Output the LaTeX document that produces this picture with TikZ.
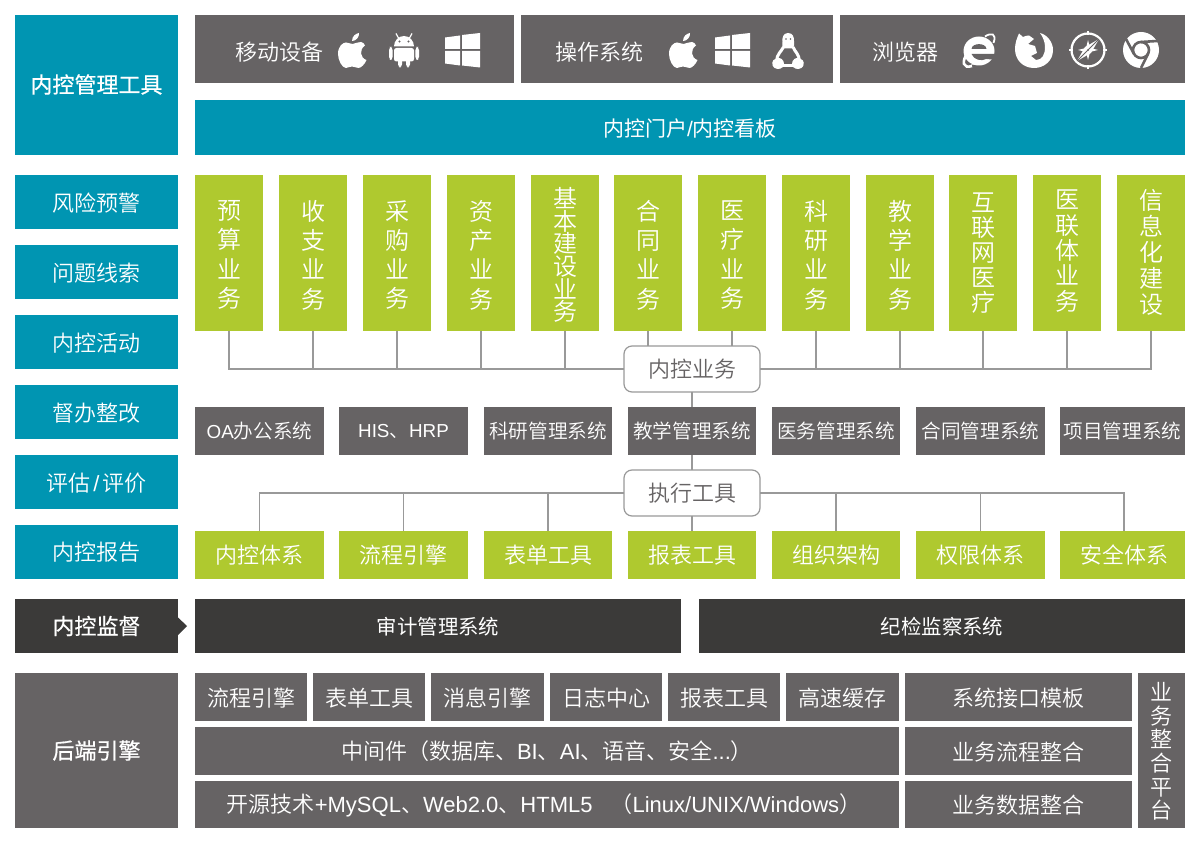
\documentclass[tikz,border=0pt]{standalone}
\usepackage{fontspec}
\setmainfont{Noto Sans CJK SC DemiLight}
\newfontfamily\latf{Liberation Sans}
\newfontfamily\regf{Noto Sans CJK SC}
\newfontfamily\heavy{Noto Sans CJK SC}[FakeBold=0.6]
\newcommand{\lat}[1]{{\latf #1}}
\newcommand{\lats}[1]{{\latf\fontsize{9.4}{12}\selectfont #1}}
\newcommand{\dn}[2][.5pt]{\raisebox{-#1}[\height][\depth]{#2}}
\newcommand{\vs}[3]{\raisebox{#1}[\height][\depth]{\vbox{\baselineskip=#2pt\lineskiplimit=-20pt\lineskip=0pt\foreach \ch in {#3}{\hbox{\ch}}}}}
\definecolor{grayb}{HTML}{666364}
\definecolor{tealb}{HTML}{0095B2}
\definecolor{greenb}{HTML}{AFC92F}
\definecolor{darkb}{HTML}{3B3A39}
\definecolor{linec}{HTML}{999999}
\definecolor{inkc}{HTML}{666364}
\tikzset{
  base/.style={inner sep=0pt,outer sep=0pt,text=white,align=center,font=\fontsize{11}{14}\selectfont},
  graybox/.style={base,fill=grayb},
  sysbox/.style={base,fill=grayb,font=\fontsize{9.8}{13}\selectfont},
  tealbox/.style={base,fill=tealb},
  greenbox/.style={base,fill=greenb},
  colbox/.style={base,fill=greenb,font=\fontsize{12}{14}\selectfont},
  darkbox/.style={base,fill=darkb},
  hubbox/.style={base,fill=white,draw=linec,line width=.6pt,rounded corners=4pt,text=inkc},
  conn/.style={draw=linec,line width=.8pt},
  ico/.style={fill=white,draw=none},
  icogap/.style={fill=grayb,draw=none},
}
\newcommand{\bx}[7]{%
  \pgfmathsetmacro{\bw}{(#5-#3)*.5}\pgfmathsetmacro{\bh}{(#6-#4)*.5}%
  \node[#2,minimum width=\bw pt,minimum height=\bh pt] (#1) at ({(#3+#5)/2},{(#4+#6)/2}) {#7};}
\newcommand{\appleicon}{%
  \fill[ico] (352,41) .. controls (352,36) and (356,33.5) .. (359,33) .. controls (359.5,37) and (356,41) .. (352,41) -- cycle;
  \fill[ico] (352.5,44) .. controls (355,44) and (358,41.5) .. (361,42) .. controls (363,42.2) and (364.5,44) .. (365,45.5)
    .. controls (359,49.5) and (360,58) .. (366.5,60) .. controls (365,64) and (361,68) .. (358.5,68)
    .. controls (356,68) and (355,66.5) .. (352,66.5) .. controls (349,66.5) and (348,68) .. (346,68)
    .. controls (342,68) and (338,60) .. (338,54) .. controls (338,46) and (343,42.5) .. (346,42.5)
    .. controls (348.5,42.5) and (350.5,44) .. (352.5,44) -- cycle;}
\newcommand{\winicon}{%
  \fill[ico] (445,37.5) -- (460,35.5) -- (460,49) -- (445,49) -- cycle;
  \fill[ico] (462,35) -- (480,33) -- (480,49) -- (462,49) -- cycle;
  \fill[ico] (445,51) -- (460,51) -- (460,65.5) -- (445,63.5) -- cycle;
  \fill[ico] (462,51) -- (480,51) -- (480,67.5) -- (462,65.5) -- cycle;}
\begin{document}
\begin{tikzpicture}[x=.5pt,y=-.5pt]
\useasboundingbox (0,0) rectangle (1200,844);
% left column
\bx{tool0}{tealbox,font=\fontsize{11}{14}\heavy}{15}{14}{178}{155}{内控管理工具}
\fill[white] (15,14) rectangle (178,15);
\bx{sa}{tealbox}{15}{175}{178}{229}{\dn{风险预警}}
\bx{sb}{tealbox}{15}{245}{178}{299}{\dn{问题线索}}
\bx{sc}{tealbox}{15}{315}{178}{369}{\dn{内控活动}}
\bx{sd}{tealbox}{15}{385}{178}{439}{\dn{督办整改}}
\bx{se}{tealbox}{15}{455}{178}{509}{\dn{评估\hspace{1.5pt}\lat{/}\hspace{1.5pt}评价}}
\bx{sf}{tealbox}{15}{525}{178}{579}{内控报告}
\bx{sup}{darkbox,font=\fontsize{11}{14}\heavy}{15}{599}{178}{653}{内控监督}
\fill[darkb] (178,617.5) -- (187,626) -- (178,635) -- cycle;
\bx{back}{graybox,font=\fontsize{11}{14}\heavy}{15}{673}{178}{828}{后端引擎}
% top
\bx{t1}{graybox,text width=158pt,align=left}{195}{15}{514}{83}{\hspace{19.5pt}\dn[1.5pt]{移动设备}}
\bx{t2}{graybox,text width=154pt,align=left}{521}{15}{833}{83}{\hspace{16pt}\dn[1.5pt]{操作系统}}
\bx{t3}{graybox,text width=171pt,align=left}{840}{15}{1185}{83}{\hspace{15.5pt}\dn[1.5pt]{浏览器}}
\bx{portal}{tealbox,font=\fontsize{10.5}{14}\regf}{195}{100}{1185}{155}{\dn{内控门户\lat{/}内控看板}}
% icons
\appleicon
\begin{scope}[shift={(331,0)}]\appleicon\end{scope}
\winicon
\begin{scope}[shift={(270,0)}]\winicon\end{scope}
% android
\fill[ico] (394,46.5) arc[start angle=180,end angle=360,x radius=10,y radius=10.5] -- cycle;
\draw[white,line width=.6pt] (398.5,38) -- (396,33.5) (409.5,38) -- (412,33.5);
\fill[icogap] (399.5,41.5) circle[radius=1.2] (408.5,41.5) circle[radius=1.2];
\fill[ico,rounded corners=1.2pt] (394,48) rectangle (414,61.5);
\fill[ico,rounded corners=1.6pt] (389,47) rectangle (392.6,60);
\fill[ico,rounded corners=1.6pt] (415.4,47) rectangle (419,60);
\fill[ico,rounded corners=1.6pt] (398,58) rectangle (402,67.5);
\fill[ico,rounded corners=1.6pt] (406,58) rectangle (410,67.5);
% linux
\fill[ico] (788,33) .. controls (783,33) and (782,38) .. (782.5,42) .. controls (782.5,45) and (782,47) .. (783,48.5) -- (793,48.5) .. controls (794.5,47) and (794,44) .. (794,41) .. controls (794,37) and (793,33) .. (788,33) -- cycle;
\fill[icogap] (786,39) circle[radius=.9] (790.5,39) circle[radius=.9];
\draw[white,line width=1.5pt] (783.5,47) .. controls (781,52) and (777,54) .. (776.5,61);
\draw[white,line width=1.5pt] (793,47) .. controls (795,52) and (799,54) .. (799.5,61);
\draw[white,line width=1.5pt] (783,65.5) -- (793,65.5);
\fill[ico,rounded corners=.8pt] (772,61) -- (778,57.5) -- (783,59.5) -- (784.5,66) -- (779,69.5) -- (773,67.5) -- cycle;
\fill[ico,rounded corners=.8pt] (804,61) -- (798,57.5) -- (793,59.5) -- (791.5,66) -- (797,69.5) -- (803,67.5) -- cycle;
% ie
\fill[ico] (979,51) ellipse[x radius=15.5,y radius=14.5];
\fill[icogap] (971.5,49) .. controls (972,42.5) and (986,42.5) .. (986.5,49) -- cycle;
\fill[icogap] (971.5,54) -- (997,54) -- (997,60) -- (986.5,59) .. controls (981,61.5) and (974,60) .. (971.5,54) -- cycle;
\fill[ico] (987,59) .. controls (984,63) and (977,66) .. (971,64.5) .. controls (977,62) and (982,62) .. (987,59) -- cycle;
\draw[white,line width=1.3pt] (968,52) .. controls (961,62) and (963,69) .. (972,66);
\draw[white,line width=.9pt] (985,36.5) .. controls (991,32.5) and (997,33) .. (993.5,43);
% firefox
\fill[ico] (1019,33.5) -- (1023,37) .. controls (1025,36) and (1027,35.5) .. (1029,35.5) -- (1034,39) -- (1028,44)
 -- (1035,46) -- (1037,53) -- (1031,56) -- (1036,60) .. controls (1042,60) and (1045,55) .. (1045,47) .. controls (1045,42) and (1043,37) .. (1040,33)
 .. controls (1048,35) and (1053,43) .. (1053,50) .. controls (1053,61) and (1044,68) .. (1034,68) .. controls (1023,68) and (1015,60) .. (1015,49) .. controls (1015,43) and (1017,38) .. (1019,33.5) -- cycle;
% safari
\draw[white,line width=1.1pt] (1088,50) circle[radius=16.5];
\foreach \a in {0,90,180,270}{\draw[white,line width=1.4pt] (1088,50) ++(\a:15) -- ++(\a:4);}
\fill[ico] (1099,39) -- (1091,53) -- (1077,61) -- (1085,47) -- cycle;
\fill[ico] (1088,40) -- (1090,48) -- (1098,50) -- (1090,52) -- (1088,60) -- (1086,52) -- (1078,50) -- (1086,48) -- cycle;
\fill[icogap] (1088,50) circle[radius=1];
\draw[grayb,line width=.5pt] (1099,39) -- (1077,61);
% chrome
\fill[ico] (1141,50) circle[radius=18];
\draw[grayb,line width=1.3pt] (1141,50) circle[radius=8];
\draw[grayb,line width=1.3pt] (1141,42) -- (1157,41);
\draw[grayb,line width=1.3pt] (1134,54) -- (1126,39);
\draw[grayb,line width=1.3pt] (1148,54) -- (1141,68);
% column boxes
\bx{c1}{colbox}{195}{175}{263}{331}{\vs{-1pt}{14.65}{预,算,业,务}}
\bx{c2}{colbox}{279}{175}{347}{331}{\vs{-1pt}{14.65}{收,支,业,务}}
\bx{c3}{colbox}{363}{175}{431}{331}{\vs{-1pt}{14.65}{采,购,业,务}}
\bx{c4}{colbox}{447}{175}{515}{331}{\vs{-1pt}{14.65}{资,产,业,务}}
\bx{c5}{colbox}{531}{175}{599}{331}{\vs{-1pt}{11.3}{基,本,建,设,业,务}}
\bx{c6}{colbox}{614}{175}{682}{331}{\vs{-1pt}{14.65}{合,同,业,务}}
\bx{c7}{colbox}{698}{175}{766}{331}{\vs{-1pt}{14.65}{医,疗,业,务}}
\bx{c8}{colbox}{782}{175}{850}{331}{\vs{-1pt}{14.65}{科,研,业,务}}
\bx{c9}{colbox}{866}{175}{934}{331}{\vs{-1pt}{14.65}{教,学,业,务}}
\bx{c10}{colbox}{949}{175}{1017}{331}{\vs{0pt}{12.5}{互,联,网,医,疗}}
\bx{c11}{colbox}{1033}{175}{1101}{331}{\vs{1pt}{12.7}{医,联,体,业,务}}
\bx{c12}{colbox}{1117}{175}{1185}{331}{\vs{.25pt}{12.9}{信,息,化,建,设}}
\bx{biz}{hubbox}{624}{346}{760}{392}{内控业务}
% systems
\bx{s1}{sysbox}{195}{407}{324}{455}{\lats{OA}办公系统}
\bx{s2}{sysbox}{339}{407}{468}{455}{\lats{HIS}、\lats{HRP}}
\bx{s3}{sysbox}{484}{407}{612}{455}{科研管理系统}
\bx{s4}{sysbox}{628}{407}{756}{455}{教学管理系统}
\bx{s5}{sysbox}{772}{407}{900}{455}{医务管理系统}
\bx{s6}{sysbox}{916}{407}{1045}{455}{合同管理系统}
\bx{s7}{sysbox}{1060}{407}{1185}{455}{项目管理系统}
\bx{tool}{hubbox}{624}{470}{760}{516}{执行工具}
% green row
\bx{g1}{greenbox}{195}{531}{324}{579}{内控体系}
\bx{g2}{greenbox}{339}{531}{468}{579}{流程引擎}
\bx{g3}{greenbox}{484}{531}{612}{579}{表单工具}
\bx{g4}{greenbox}{628}{531}{756}{579}{报表工具}
\bx{g5}{greenbox}{772}{531}{900}{579}{组织架构}
\bx{g6}{greenbox}{916}{531}{1045}{579}{权限体系}
\bx{g7}{greenbox}{1060}{531}{1185}{579}{\hspace{1.5pt}安全体系}
% supervision
\bx{audit}{darkbox,font=\fontsize{10.2}{14}\regf}{195}{599}{681}{653}{\dn{审计管理系统}}
\bx{disc}{darkbox,font=\fontsize{10.2}{14}\regf}{699}{599}{1185}{653}{\dn{纪检监察系统}}
% back end
\bx{b1}{graybox}{195}{673}{307}{721}{\dn{流程引擎}}
\bx{b2}{graybox}{313}{673}{425}{721}{\dn{表单工具}}
\bx{b3}{graybox}{431}{673}{544}{721}{\dn{消息引擎}}
\bx{b4}{graybox}{550}{673}{662}{721}{\dn{日志中心}}
\bx{b5}{graybox}{668}{673}{780}{721}{\dn{报表工具}}
\bx{b6}{graybox}{786}{673}{899}{721}{\dn{高速缓存}}
\bx{m1}{graybox}{195}{727}{899}{775}{中间件（数据库、\lat{BI}、\lat{AI}、语音、安全\lat{...}）}
\bx{m2}{graybox}{195}{781}{899}{828}{\dn{开源技术\lat{+MySQL}、\lat{Web2.0}、\lat{HTML5}\hspace{9pt}（\lat{Linux/UNIX/Windows}）\hspace{3pt}}}
\bx{i1}{graybox}{905}{673}{1132}{721}{\dn{系统接口模板}}
\bx{i2}{graybox}{905}{727}{1132}{775}{\dn{业务流程整合}}
\bx{i3}{graybox}{905}{781}{1132}{828}{\dn{业务数据整合}}
\bx{plat}{graybox}{1138}{673}{1185}{828}{\vs{-.5pt}{11.8}{业,务,整,合,平,台}}
% connectors
\foreach \n in {1,...,5}{\draw[conn] (c\n.south) |- (biz.west);}
\foreach \n in {6,7}{\draw[conn] (c\n.south) -- (c\n.south |- biz.north);}
\foreach \n in {8,...,12}{\draw[conn] (c\n.south) |- (biz.east);}
\draw[conn] (biz.south) -- (s4.north);
\draw[conn] (s4.south) -- (tool.north);
\draw[conn] (tool.south) -- (g4.north);
\foreach \n in {1,2,3}{\draw[conn] (g\n.north) |- (tool.west);}
\foreach \n in {5,6}{\draw[conn] (g\n.north) |- (tool.east);}
\draw[conn] ([xshift=.75pt]g7.north) |- (tool.east);
\end{tikzpicture}
\end{document}
